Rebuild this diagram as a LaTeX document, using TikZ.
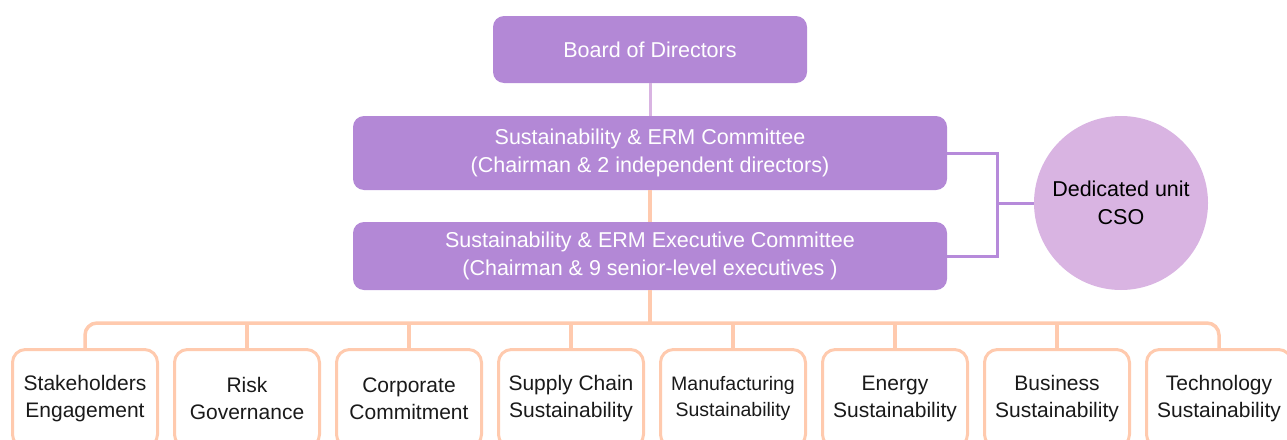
\documentclass[tikz,border=0pt]{standalone}
\usepackage{fontspec}
\setmainfont{Liberation Sans}
\definecolor{boxpurple}{HTML}{B388D6}
\definecolor{lightpurple}{HTML}{D9B4E2}
\definecolor{peach}{HTML}{FFCAAE}
\definecolor{linepurple}{HTML}{B68ADA}
\definecolor{darktext}{HTML}{1A1A1A}
\begin{document}
\begin{tikzpicture}[x=1pt,y=-1pt,
  topbox/.style={rectangle, rounded corners=11pt, fill=boxpurple, text=white,
    font=\fontsize{21.5}{27.5}\selectfont, align=center, inner sep=0pt},
  unitbox/.style={rectangle, rounded corners=13pt, draw=peach, line width=3pt, fill=white,
    minimum width=145pt, minimum height=98pt, inner sep=0pt, anchor=north, align=center,
    text=darktext, font=\fontsize{21}{27}\selectfont},
  peachline/.style={draw=peach, line width=3.5pt},
  purpline/.style={draw=linepurple, line width=3pt}]
\useasboundingbox (0,0) rectangle (1287,439);

\coordinate (bus) at (650,323);
\coordinate (j) at (997,203);

\node[topbox, minimum width=314pt, minimum height=67pt] (board) at (650,49.5) {Board of Directors};
\node[topbox, minimum width=594pt, minimum height=74pt] (c1) at (650,153)
  {Sustainability \& ERM Committee\\(Chairman \& 2 independent directors)};
\node[topbox, minimum width=594pt, minimum height=68pt] (c2) at (650,256)
  {Sustainability \& ERM Executive Committee\\(Chairman \& 9 senior-level executives )};

\node[circle, fill=lightpurple, minimum size=174pt, inner sep=0pt, align=center,
  font=\fontsize{21.5}{28}\selectfont, text=black] (cso) at (1121,203) {Dedicated unit\\CSO};

\node[unitbox] (u1) at (85,348) {Stakeholders\\Engagement};
\node[unitbox] (u2) at (247,348) {Risk\\Governance};
\node[unitbox] (u3) at (409,348) {Corporate\\Commitment};
\node[unitbox] (u4) at (571,348) {Supply Chain\\Sustainability};
\node[unitbox, font=\fontsize{19.5}{26}\selectfont] (u5) at (733,348) {Manufacturing\\Sustainability};
\node[unitbox] (u6) at (895,348) {Energy\\Sustainability};
\node[unitbox] (u7) at (1057,348) {Business\\Sustainability};
\node[unitbox] (u8) at (1219,348) {Technology\\Sustainability};

\draw[draw=lightpurple, line width=3pt] (board.south) -- (c1.north);
\draw[peachline] (c1.south) -- (c2.north);
\draw[peachline] (c2.south) -- (bus);
\draw[peachline, rounded corners=12pt] (u1.north) -- (u1.north |- bus) -- (u8.north |- bus) -- (u8.north);
\foreach \i in {2,...,7} {\draw[peachline] (u\i.north) -- (u\i.north |- bus);}

\draw[purpline] (c1.east) -| (j) |- (c2.east);
\draw[purpline] (j) -- (cso.west);
\end{tikzpicture}
\end{document}
